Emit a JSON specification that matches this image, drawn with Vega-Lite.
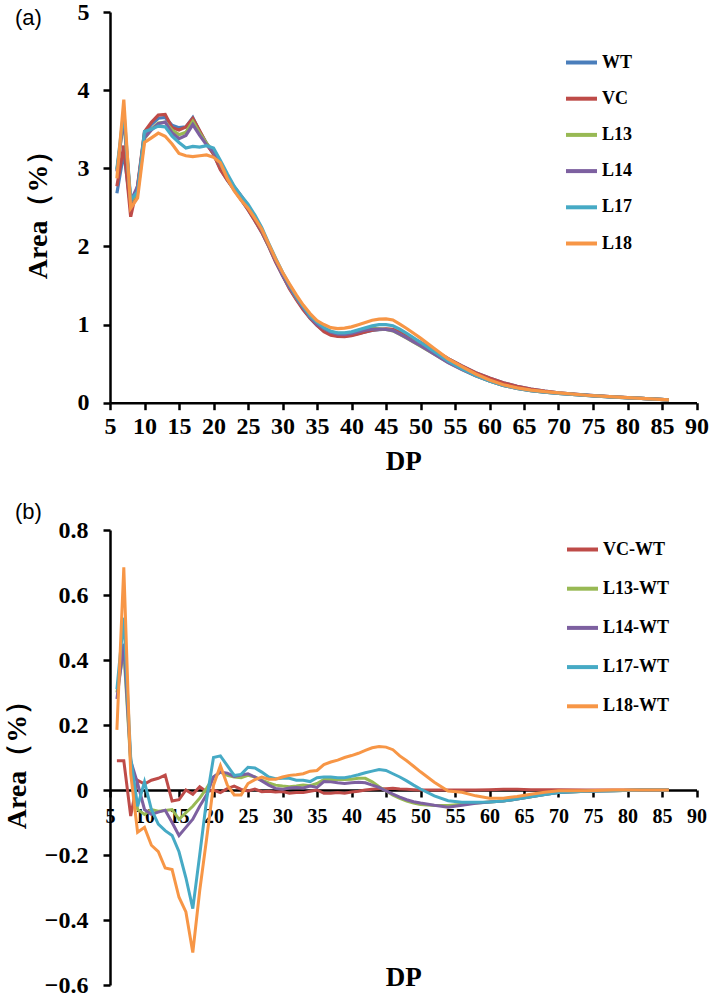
{
  "$schema": "https://vega.github.io/schema/vega-lite/v6.json",
  "padding": {"left": 3, "top": 0, "right": 0, "bottom": 0},
  "spacing": 26,
  "config": {
    "view": {"stroke": null},
    "font": "Liberation Serif",
    "axis": {"domainColor": "#000", "domainWidth": 2.5, "tickColor": "#000", "tickWidth": 2.5, "tickSize": 7, "labelColor": "#000", "labelFont": "Liberation Serif", "labelFontWeight": "bold", "grid": false, "titleFont": "Liberation Serif", "titleFontWeight": "bold", "titleColor": "#000", "labelOverlap": false, "labelFlush": false, "labelBound": false},
    "legend": {"symbolType": "stroke", "symbolSize": 961, "symbolStrokeWidth": 4, "labelFont": "Liberation Serif", "labelFontWeight": "bold", "labelFontSize": 18, "labelColor": "#000", "labelOffset": 3, "padding": 0, "title": null}
  },
  "datasets": {
    "top": [
      {"s":"WT","dp":6,"v":2.68},{"s":"WT","dp":7,"v":3.20},{"s":"WT","dp":8,"v":2.50},{"s":"WT","dp":9,"v":2.75},{"s":"WT","dp":10,"v":3.45},{"s":"WT","dp":11,"v":3.56},{"s":"WT","dp":12,"v":3.64},{"s":"WT","dp":13,"v":3.65},{"s":"WT","dp":14,"v":3.55},{"s":"WT","dp":15,"v":3.52},{"s":"WT","dp":16,"v":3.53},{"s":"WT","dp":17,"v":3.65},{"s":"WT","dp":18,"v":3.47},{"s":"WT","dp":19,"v":3.32},{"s":"WT","dp":20,"v":3.18},{"s":"WT","dp":21,"v":2.99},{"s":"WT","dp":22,"v":2.85},{"s":"WT","dp":23,"v":2.72},{"s":"WT","dp":24,"v":2.60},{"s":"WT","dp":25,"v":2.47},{"s":"WT","dp":26,"v":2.33},{"s":"WT","dp":27,"v":2.18},{"s":"WT","dp":28,"v":2.00},{"s":"WT","dp":29,"v":1.81},{"s":"WT","dp":30,"v":1.63},{"s":"WT","dp":31,"v":1.47},{"s":"WT","dp":32,"v":1.33},{"s":"WT","dp":33,"v":1.20},{"s":"WT","dp":34,"v":1.08},{"s":"WT","dp":35,"v":0.99},{"s":"WT","dp":36,"v":0.92},{"s":"WT","dp":37,"v":0.875},{"s":"WT","dp":38,"v":0.855},{"s":"WT","dp":39,"v":0.855},{"s":"WT","dp":40,"v":0.865},{"s":"WT","dp":41,"v":0.885},{"s":"WT","dp":42,"v":0.905},{"s":"WT","dp":43,"v":0.925},{"s":"WT","dp":44,"v":0.935},{"s":"WT","dp":45,"v":0.94},{"s":"WT","dp":46,"v":0.935},{"s":"WT","dp":47,"v":0.90},{"s":"WT","dp":48,"v":0.86},{"s":"WT","dp":49,"v":0.815},{"s":"WT","dp":50,"v":0.77},{"s":"WT","dp":52,"v":0.67},{"s":"WT","dp":54,"v":0.565},{"s":"WT","dp":56,"v":0.47},{"s":"WT","dp":58,"v":0.385},{"s":"WT","dp":60,"v":0.315},{"s":"WT","dp":62,"v":0.255},{"s":"WT","dp":64,"v":0.21},{"s":"WT","dp":66,"v":0.175},{"s":"WT","dp":68,"v":0.148},{"s":"WT","dp":70,"v":0.127},{"s":"WT","dp":74,"v":0.097},{"s":"WT","dp":78,"v":0.074},{"s":"WT","dp":82,"v":0.055},{"s":"WT","dp":86,"v":0.035},
      {"s":"VC","dp":6,"v":2.77},{"s":"VC","dp":7,"v":3.29},{"s":"VC","dp":8,"v":2.38},{"s":"VC","dp":9,"v":2.78},{"s":"VC","dp":10,"v":3.47},{"s":"VC","dp":11,"v":3.59},{"s":"VC","dp":12,"v":3.68},{"s":"VC","dp":13,"v":3.69},{"s":"VC","dp":14,"v":3.52},{"s":"VC","dp":15,"v":3.49},{"s":"VC","dp":16,"v":3.53},{"s":"VC","dp":17,"v":3.64},{"s":"VC","dp":18,"v":3.48},{"s":"VC","dp":19,"v":3.31},{"s":"VC","dp":20,"v":3.18},{"s":"VC","dp":21,"v":2.98},{"s":"VC","dp":22,"v":2.85},{"s":"VC","dp":23,"v":2.73},{"s":"VC","dp":24,"v":2.60},{"s":"VC","dp":25,"v":2.47},{"s":"VC","dp":26,"v":2.33},{"s":"VC","dp":27,"v":2.18},{"s":"VC","dp":28,"v":2.00},{"s":"VC","dp":29,"v":1.80},{"s":"VC","dp":30,"v":1.63},{"s":"VC","dp":31,"v":1.46},{"s":"VC","dp":32,"v":1.32},{"s":"VC","dp":33,"v":1.19},{"s":"VC","dp":34,"v":1.08},{"s":"VC","dp":35,"v":0.99},{"s":"VC","dp":36,"v":0.91},{"s":"VC","dp":37,"v":0.865},{"s":"VC","dp":38,"v":0.847},{"s":"VC","dp":39,"v":0.845},{"s":"VC","dp":40,"v":0.859},{"s":"VC","dp":41,"v":0.881},{"s":"VC","dp":42,"v":0.905},{"s":"VC","dp":43,"v":0.927},{"s":"VC","dp":44,"v":0.939},{"s":"VC","dp":45,"v":0.944},{"s":"VC","dp":46,"v":0.94},{"s":"VC","dp":47,"v":0.903},{"s":"VC","dp":48,"v":0.862},{"s":"VC","dp":49,"v":0.816},{"s":"VC","dp":50,"v":0.77},{"s":"VC","dp":52,"v":0.67},{"s":"VC","dp":54,"v":0.565},{"s":"VC","dp":56,"v":0.47},{"s":"VC","dp":58,"v":0.385},{"s":"VC","dp":60,"v":0.315},{"s":"VC","dp":62,"v":0.255},{"s":"VC","dp":64,"v":0.21},{"s":"VC","dp":66,"v":0.175},{"s":"VC","dp":68,"v":0.148},{"s":"VC","dp":70,"v":0.127},{"s":"VC","dp":74,"v":0.097},{"s":"VC","dp":78,"v":0.074},{"s":"VC","dp":82,"v":0.055},{"s":"VC","dp":86,"v":0.035},
      {"s":"L13","dp":6,"v":2.98},{"s":"L13","dp":7,"v":3.63},{"s":"L13","dp":8,"v":2.57},{"s":"L13","dp":9,"v":2.69},{"s":"L13","dp":10,"v":3.38},{"s":"L13","dp":11,"v":3.50},{"s":"L13","dp":12,"v":3.58},{"s":"L13","dp":13,"v":3.59},{"s":"L13","dp":14,"v":3.49},{"s":"L13","dp":15,"v":3.43},{"s":"L13","dp":16,"v":3.46},{"s":"L13","dp":17,"v":3.60},{"s":"L13","dp":18,"v":3.45},{"s":"L13","dp":19,"v":3.32},{"s":"L13","dp":20,"v":3.21},{"s":"L13","dp":21,"v":3.05},{"s":"L13","dp":22,"v":2.90},{"s":"L13","dp":23,"v":2.76},{"s":"L13","dp":24,"v":2.64},{"s":"L13","dp":25,"v":2.52},{"s":"L13","dp":26,"v":2.37},{"s":"L13","dp":27,"v":2.21},{"s":"L13","dp":28,"v":2.02},{"s":"L13","dp":29,"v":1.83},{"s":"L13","dp":30,"v":1.64},{"s":"L13","dp":31,"v":1.48},{"s":"L13","dp":32,"v":1.34},{"s":"L13","dp":33,"v":1.22},{"s":"L13","dp":34,"v":1.09},{"s":"L13","dp":35,"v":1.01},{"s":"L13","dp":36,"v":0.95},{"s":"L13","dp":37,"v":0.908},{"s":"L13","dp":38,"v":0.887},{"s":"L13","dp":39,"v":0.887},{"s":"L13","dp":40,"v":0.898},{"s":"L13","dp":41,"v":0.921},{"s":"L13","dp":42,"v":0.941},{"s":"L13","dp":43,"v":0.95},{"s":"L13","dp":44,"v":0.945},{"s":"L13","dp":45,"v":0.937},{"s":"L13","dp":46,"v":0.919},{"s":"L13","dp":47,"v":0.874},{"s":"L13","dp":48,"v":0.826},{"s":"L13","dp":49,"v":0.775},{"s":"L13","dp":50,"v":0.725},{"s":"L13","dp":52,"v":0.622},{"s":"L13","dp":54,"v":0.517},{"s":"L13","dp":56,"v":0.426},{"s":"L13","dp":58,"v":0.345},{"s":"L13","dp":60,"v":0.278},{"s":"L13","dp":62,"v":0.221},{"s":"L13","dp":64,"v":0.182},{"s":"L13","dp":66,"v":0.154},{"s":"L13","dp":68,"v":0.134},{"s":"L13","dp":70,"v":0.119},{"s":"L13","dp":74,"v":0.093},{"s":"L13","dp":78,"v":0.072},{"s":"L13","dp":82,"v":0.055},{"s":"L13","dp":86,"v":0.035},
      {"s":"L14","dp":6,"v":2.96},{"s":"L14","dp":7,"v":3.65},{"s":"L14","dp":8,"v":2.58},{"s":"L14","dp":9,"v":2.77},{"s":"L14","dp":10,"v":3.39},{"s":"L14","dp":11,"v":3.49},{"s":"L14","dp":12,"v":3.57},{"s":"L14","dp":13,"v":3.59},{"s":"L14","dp":14,"v":3.45},{"s":"L14","dp":15,"v":3.38},{"s":"L14","dp":16,"v":3.42},{"s":"L14","dp":17,"v":3.56},{"s":"L14","dp":18,"v":3.42},{"s":"L14","dp":19,"v":3.30},{"s":"L14","dp":20,"v":3.21},{"s":"L14","dp":21,"v":3.05},{"s":"L14","dp":22,"v":2.90},{"s":"L14","dp":23,"v":2.76},{"s":"L14","dp":24,"v":2.65},{"s":"L14","dp":25,"v":2.52},{"s":"L14","dp":26,"v":2.37},{"s":"L14","dp":27,"v":2.21},{"s":"L14","dp":28,"v":2.02},{"s":"L14","dp":29,"v":1.82},{"s":"L14","dp":30,"v":1.63},{"s":"L14","dp":31,"v":1.48},{"s":"L14","dp":32,"v":1.34},{"s":"L14","dp":33,"v":1.21},{"s":"L14","dp":34,"v":1.09},{"s":"L14","dp":35,"v":1.00},{"s":"L14","dp":36,"v":0.95},{"s":"L14","dp":37,"v":0.90},{"s":"L14","dp":38,"v":0.877},{"s":"L14","dp":39,"v":0.875},{"s":"L14","dp":40,"v":0.887},{"s":"L14","dp":41,"v":0.909},{"s":"L14","dp":42,"v":0.927},{"s":"L14","dp":43,"v":0.94},{"s":"L14","dp":44,"v":0.943},{"s":"L14","dp":45,"v":0.937},{"s":"L14","dp":46,"v":0.922},{"s":"L14","dp":47,"v":0.878},{"s":"L14","dp":48,"v":0.83},{"s":"L14","dp":49,"v":0.779},{"s":"L14","dp":50,"v":0.73},{"s":"L14","dp":52,"v":0.623},{"s":"L14","dp":54,"v":0.512},{"s":"L14","dp":56,"v":0.423},{"s":"L14","dp":58,"v":0.344},{"s":"L14","dp":60,"v":0.278},{"s":"L14","dp":62,"v":0.221},{"s":"L14","dp":64,"v":0.182},{"s":"L14","dp":66,"v":0.154},{"s":"L14","dp":68,"v":0.134},{"s":"L14","dp":70,"v":0.119},{"s":"L14","dp":74,"v":0.093},{"s":"L14","dp":78,"v":0.072},{"s":"L14","dp":82,"v":0.055},{"s":"L14","dp":86,"v":0.035},
      {"s":"L17","dp":6,"v":2.99},{"s":"L17","dp":7,"v":3.73},{"s":"L17","dp":8,"v":2.60},{"s":"L17","dp":9,"v":2.70},{"s":"L17","dp":10,"v":3.47},{"s":"L17","dp":11,"v":3.50},{"s":"L17","dp":12,"v":3.54},{"s":"L17","dp":13,"v":3.53},{"s":"L17","dp":14,"v":3.41},{"s":"L17","dp":15,"v":3.33},{"s":"L17","dp":16,"v":3.26},{"s":"L17","dp":17,"v":3.28},{"s":"L17","dp":18,"v":3.27},{"s":"L17","dp":19,"v":3.29},{"s":"L17","dp":20,"v":3.26},{"s":"L17","dp":21,"v":3.10},{"s":"L17","dp":22,"v":2.93},{"s":"L17","dp":23,"v":2.77},{"s":"L17","dp":24,"v":2.65},{"s":"L17","dp":25,"v":2.54},{"s":"L17","dp":26,"v":2.40},{"s":"L17","dp":27,"v":2.24},{"s":"L17","dp":28,"v":2.04},{"s":"L17","dp":29,"v":1.85},{"s":"L17","dp":30,"v":1.67},{"s":"L17","dp":31,"v":1.51},{"s":"L17","dp":32,"v":1.36},{"s":"L17","dp":33,"v":1.23},{"s":"L17","dp":34,"v":1.11},{"s":"L17","dp":35,"v":1.03},{"s":"L17","dp":36,"v":0.96},{"s":"L17","dp":37,"v":0.915},{"s":"L17","dp":38,"v":0.893},{"s":"L17","dp":39,"v":0.893},{"s":"L17","dp":40,"v":0.907},{"s":"L17","dp":41,"v":0.932},{"s":"L17","dp":42,"v":0.958},{"s":"L17","dp":43,"v":0.983},{"s":"L17","dp":44,"v":0.998},{"s":"L17","dp":45,"v":1.0},{"s":"L17","dp":46,"v":0.985},{"s":"L17","dp":47,"v":0.94},{"s":"L17","dp":48,"v":0.888},{"s":"L17","dp":49,"v":0.83},{"s":"L17","dp":50,"v":0.773},{"s":"L17","dp":52,"v":0.652},{"s":"L17","dp":54,"v":0.532},{"s":"L17","dp":56,"v":0.432},{"s":"L17","dp":58,"v":0.347},{"s":"L17","dp":60,"v":0.278},{"s":"L17","dp":62,"v":0.221},{"s":"L17","dp":64,"v":0.182},{"s":"L17","dp":66,"v":0.154},{"s":"L17","dp":68,"v":0.134},{"s":"L17","dp":70,"v":0.119},{"s":"L17","dp":74,"v":0.093},{"s":"L17","dp":78,"v":0.072},{"s":"L17","dp":82,"v":0.055},{"s":"L17","dp":86,"v":0.035},
      {"s":"L18","dp":6,"v":2.87},{"s":"L18","dp":7,"v":3.88},{"s":"L18","dp":8,"v":2.49},{"s":"L18","dp":9,"v":2.62},{"s":"L18","dp":10,"v":3.33},{"s":"L18","dp":11,"v":3.39},{"s":"L18","dp":12,"v":3.45},{"s":"L18","dp":13,"v":3.41},{"s":"L18","dp":14,"v":3.31},{"s":"L18","dp":15,"v":3.19},{"s":"L18","dp":16,"v":3.16},{"s":"L18","dp":17,"v":3.15},{"s":"L18","dp":18,"v":3.16},{"s":"L18","dp":19,"v":3.17},{"s":"L18","dp":20,"v":3.14},{"s":"L18","dp":21,"v":3.07},{"s":"L18","dp":22,"v":2.87},{"s":"L18","dp":23,"v":2.71},{"s":"L18","dp":24,"v":2.59},{"s":"L18","dp":25,"v":2.49},{"s":"L18","dp":26,"v":2.36},{"s":"L18","dp":27,"v":2.22},{"s":"L18","dp":28,"v":2.03},{"s":"L18","dp":29,"v":1.84},{"s":"L18","dp":30,"v":1.67},{"s":"L18","dp":31,"v":1.52},{"s":"L18","dp":32,"v":1.38},{"s":"L18","dp":33,"v":1.25},{"s":"L18","dp":34,"v":1.14},{"s":"L18","dp":35,"v":1.05},{"s":"L18","dp":36,"v":1.0},{"s":"L18","dp":37,"v":0.961},{"s":"L18","dp":38,"v":0.947},{"s":"L18","dp":39,"v":0.955},{"s":"L18","dp":40,"v":0.971},{"s":"L18","dp":41,"v":0.998},{"s":"L18","dp":42,"v":1.027},{"s":"L18","dp":43,"v":1.055},{"s":"L18","dp":44,"v":1.069},{"s":"L18","dp":45,"v":1.072},{"s":"L18","dp":46,"v":1.059},{"s":"L18","dp":47,"v":1.005},{"s":"L18","dp":48,"v":0.95},{"s":"L18","dp":49,"v":0.888},{"s":"L18","dp":50,"v":0.826},{"s":"L18","dp":52,"v":0.694},{"s":"L18","dp":54,"v":0.562},{"s":"L18","dp":56,"v":0.463},{"s":"L18","dp":58,"v":0.367},{"s":"L18","dp":60,"v":0.29},{"s":"L18","dp":62,"v":0.23},{"s":"L18","dp":64,"v":0.19},{"s":"L18","dp":66,"v":0.162},{"s":"L18","dp":68,"v":0.141},{"s":"L18","dp":70,"v":0.125},{"s":"L18","dp":74,"v":0.095},{"s":"L18","dp":78,"v":0.074},{"s":"L18","dp":82,"v":0.055},{"s":"L18","dp":86,"v":0.035}
    ],
    "bot": [
      {"s":"VC-WT","dp":6,"v":0.09},{"s":"VC-WT","dp":7,"v":0.09},{"s":"VC-WT","dp":8,"v":-0.08},{"s":"VC-WT","dp":9,"v":0.03},{"s":"VC-WT","dp":10,"v":0.018},{"s":"VC-WT","dp":11,"v":0.03},{"s":"VC-WT","dp":12,"v":0.036},{"s":"VC-WT","dp":13,"v":0.046},{"s":"VC-WT","dp":14,"v":-0.034},{"s":"VC-WT","dp":15,"v":-0.03},{"s":"VC-WT","dp":16,"v":0.0},{"s":"VC-WT","dp":17,"v":-0.013},{"s":"VC-WT","dp":18,"v":0.01},{"s":"VC-WT","dp":19,"v":-0.005},{"s":"VC-WT","dp":20,"v":0.0},{"s":"VC-WT","dp":21,"v":-0.008},{"s":"VC-WT","dp":22,"v":0.004},{"s":"VC-WT","dp":23,"v":0.012},{"s":"VC-WT","dp":24,"v":0.002},{"s":"VC-WT","dp":25,"v":-0.003},{"s":"VC-WT","dp":26,"v":0.003},{"s":"VC-WT","dp":27,"v":-0.005},{"s":"VC-WT","dp":28,"v":-0.004},{"s":"VC-WT","dp":29,"v":-0.006},{"s":"VC-WT","dp":30,"v":-0.005},{"s":"VC-WT","dp":31,"v":-0.01},{"s":"VC-WT","dp":32,"v":-0.008},{"s":"VC-WT","dp":33,"v":-0.008},{"s":"VC-WT","dp":34,"v":-0.004},{"s":"VC-WT","dp":35,"v":0.0},{"s":"VC-WT","dp":36,"v":-0.01},{"s":"VC-WT","dp":37,"v":-0.01},{"s":"VC-WT","dp":38,"v":-0.008},{"s":"VC-WT","dp":39,"v":-0.01},{"s":"VC-WT","dp":40,"v":-0.006},{"s":"VC-WT","dp":41,"v":-0.004},{"s":"VC-WT","dp":42,"v":0.0},{"s":"VC-WT","dp":43,"v":0.002},{"s":"VC-WT","dp":44,"v":0.004},{"s":"VC-WT","dp":45,"v":0.004},{"s":"VC-WT","dp":46,"v":0.005},{"s":"VC-WT","dp":47,"v":0.003},{"s":"VC-WT","dp":48,"v":0.002},{"s":"VC-WT","dp":49,"v":0.001},{"s":"VC-WT","dp":50,"v":0.0},{"s":"VC-WT","dp":52,"v":0.0},{"s":"VC-WT","dp":54,"v":0.0},{"s":"VC-WT","dp":56,"v":0.0},{"s":"VC-WT","dp":58,"v":0.0},{"s":"VC-WT","dp":60,"v":0.001},{"s":"VC-WT","dp":62,"v":0.002},{"s":"VC-WT","dp":64,"v":0.002},{"s":"VC-WT","dp":66,"v":0.001},{"s":"VC-WT","dp":68,"v":0.001},{"s":"VC-WT","dp":70,"v":0.001},{"s":"VC-WT","dp":74,"v":0.0},{"s":"VC-WT","dp":78,"v":0.0},{"s":"VC-WT","dp":82,"v":0.0},{"s":"VC-WT","dp":86,"v":0.0},
      {"s":"L13-WT","dp":6,"v":0.3},{"s":"L13-WT","dp":7,"v":0.43},{"s":"L13-WT","dp":8,"v":0.08},{"s":"L13-WT","dp":9,"v":-0.06},{"s":"L13-WT","dp":10,"v":-0.075},{"s":"L13-WT","dp":11,"v":-0.06},{"s":"L13-WT","dp":12,"v":-0.065},{"s":"L13-WT","dp":13,"v":-0.063},{"s":"L13-WT","dp":14,"v":-0.06},{"s":"L13-WT","dp":15,"v":-0.09},{"s":"L13-WT","dp":16,"v":-0.07},{"s":"L13-WT","dp":17,"v":-0.05},{"s":"L13-WT","dp":18,"v":-0.025},{"s":"L13-WT","dp":19,"v":0.005},{"s":"L13-WT","dp":20,"v":0.04},{"s":"L13-WT","dp":21,"v":0.055},{"s":"L13-WT","dp":22,"v":0.045},{"s":"L13-WT","dp":23,"v":0.04},{"s":"L13-WT","dp":24,"v":0.038},{"s":"L13-WT","dp":25,"v":0.045},{"s":"L13-WT","dp":26,"v":0.04},{"s":"L13-WT","dp":27,"v":0.03},{"s":"L13-WT","dp":28,"v":0.022},{"s":"L13-WT","dp":29,"v":0.015},{"s":"L13-WT","dp":30,"v":0.012},{"s":"L13-WT","dp":31,"v":0.01},{"s":"L13-WT","dp":32,"v":0.012},{"s":"L13-WT","dp":33,"v":0.015},{"s":"L13-WT","dp":34,"v":0.013},{"s":"L13-WT","dp":35,"v":0.02},{"s":"L13-WT","dp":36,"v":0.032},{"s":"L13-WT","dp":37,"v":0.033},{"s":"L13-WT","dp":38,"v":0.032},{"s":"L13-WT","dp":39,"v":0.032},{"s":"L13-WT","dp":40,"v":0.033},{"s":"L13-WT","dp":41,"v":0.036},{"s":"L13-WT","dp":42,"v":0.036},{"s":"L13-WT","dp":43,"v":0.025},{"s":"L13-WT","dp":44,"v":0.01},{"s":"L13-WT","dp":45,"v":-0.003},{"s":"L13-WT","dp":46,"v":-0.016},{"s":"L13-WT","dp":47,"v":-0.026},{"s":"L13-WT","dp":48,"v":-0.034},{"s":"L13-WT","dp":49,"v":-0.04},{"s":"L13-WT","dp":50,"v":-0.045},{"s":"L13-WT","dp":52,"v":-0.048},{"s":"L13-WT","dp":54,"v":-0.048},{"s":"L13-WT","dp":56,"v":-0.044},{"s":"L13-WT","dp":58,"v":-0.04},{"s":"L13-WT","dp":60,"v":-0.037},{"s":"L13-WT","dp":62,"v":-0.034},{"s":"L13-WT","dp":64,"v":-0.028},{"s":"L13-WT","dp":66,"v":-0.021},{"s":"L13-WT","dp":68,"v":-0.014},{"s":"L13-WT","dp":70,"v":-0.008},{"s":"L13-WT","dp":74,"v":-0.004},{"s":"L13-WT","dp":78,"v":-0.002},{"s":"L13-WT","dp":82,"v":0.0},{"s":"L13-WT","dp":86,"v":0.0},
      {"s":"L14-WT","dp":6,"v":0.28},{"s":"L14-WT","dp":7,"v":0.45},{"s":"L14-WT","dp":8,"v":0.09},{"s":"L14-WT","dp":9,"v":0.02},{"s":"L14-WT","dp":10,"v":-0.06},{"s":"L14-WT","dp":11,"v":-0.075},{"s":"L14-WT","dp":12,"v":-0.068},{"s":"L14-WT","dp":13,"v":-0.062},{"s":"L14-WT","dp":14,"v":-0.1},{"s":"L14-WT","dp":15,"v":-0.14},{"s":"L14-WT","dp":16,"v":-0.115},{"s":"L14-WT","dp":17,"v":-0.09},{"s":"L14-WT","dp":18,"v":-0.05},{"s":"L14-WT","dp":19,"v":-0.015},{"s":"L14-WT","dp":20,"v":0.04},{"s":"L14-WT","dp":21,"v":0.055},{"s":"L14-WT","dp":22,"v":0.052},{"s":"L14-WT","dp":23,"v":0.042},{"s":"L14-WT","dp":24,"v":0.046},{"s":"L14-WT","dp":25,"v":0.05},{"s":"L14-WT","dp":26,"v":0.04},{"s":"L14-WT","dp":27,"v":0.028},{"s":"L14-WT","dp":28,"v":0.015},{"s":"L14-WT","dp":29,"v":0.005},{"s":"L14-WT","dp":30,"v":0.002},{"s":"L14-WT","dp":31,"v":0.006},{"s":"L14-WT","dp":32,"v":0.008},{"s":"L14-WT","dp":33,"v":0.006},{"s":"L14-WT","dp":34,"v":0.012},{"s":"L14-WT","dp":35,"v":0.008},{"s":"L14-WT","dp":36,"v":0.026},{"s":"L14-WT","dp":37,"v":0.025},{"s":"L14-WT","dp":38,"v":0.022},{"s":"L14-WT","dp":39,"v":0.02},{"s":"L14-WT","dp":40,"v":0.022},{"s":"L14-WT","dp":41,"v":0.024},{"s":"L14-WT","dp":42,"v":0.022},{"s":"L14-WT","dp":43,"v":0.015},{"s":"L14-WT","dp":44,"v":0.008},{"s":"L14-WT","dp":45,"v":-0.003},{"s":"L14-WT","dp":46,"v":-0.013},{"s":"L14-WT","dp":47,"v":-0.022},{"s":"L14-WT","dp":48,"v":-0.03},{"s":"L14-WT","dp":49,"v":-0.036},{"s":"L14-WT","dp":50,"v":-0.04},{"s":"L14-WT","dp":52,"v":-0.047},{"s":"L14-WT","dp":54,"v":-0.053},{"s":"L14-WT","dp":56,"v":-0.047},{"s":"L14-WT","dp":58,"v":-0.041},{"s":"L14-WT","dp":60,"v":-0.037},{"s":"L14-WT","dp":62,"v":-0.034},{"s":"L14-WT","dp":64,"v":-0.028},{"s":"L14-WT","dp":66,"v":-0.021},{"s":"L14-WT","dp":68,"v":-0.014},{"s":"L14-WT","dp":70,"v":-0.008},{"s":"L14-WT","dp":74,"v":-0.004},{"s":"L14-WT","dp":78,"v":-0.002},{"s":"L14-WT","dp":82,"v":0.0},{"s":"L14-WT","dp":86,"v":0.0},
      {"s":"L17-WT","dp":6,"v":0.31},{"s":"L17-WT","dp":7,"v":0.53},{"s":"L17-WT","dp":8,"v":0.1},{"s":"L17-WT","dp":9,"v":-0.05},{"s":"L17-WT","dp":10,"v":0.025},{"s":"L17-WT","dp":11,"v":-0.06},{"s":"L17-WT","dp":12,"v":-0.105},{"s":"L17-WT","dp":13,"v":-0.125},{"s":"L17-WT","dp":14,"v":-0.14},{"s":"L17-WT","dp":15,"v":-0.19},{"s":"L17-WT","dp":16,"v":-0.27},{"s":"L17-WT","dp":17,"v":-0.365},{"s":"L17-WT","dp":18,"v":-0.2},{"s":"L17-WT","dp":19,"v":-0.03},{"s":"L17-WT","dp":20,"v":0.1},{"s":"L17-WT","dp":21,"v":0.105},{"s":"L17-WT","dp":22,"v":0.075},{"s":"L17-WT","dp":23,"v":0.045},{"s":"L17-WT","dp":24,"v":0.048},{"s":"L17-WT","dp":25,"v":0.07},{"s":"L17-WT","dp":26,"v":0.068},{"s":"L17-WT","dp":27,"v":0.055},{"s":"L17-WT","dp":28,"v":0.04},{"s":"L17-WT","dp":29,"v":0.035},{"s":"L17-WT","dp":30,"v":0.036},{"s":"L17-WT","dp":31,"v":0.036},{"s":"L17-WT","dp":32,"v":0.03},{"s":"L17-WT","dp":33,"v":0.03},{"s":"L17-WT","dp":34,"v":0.026},{"s":"L17-WT","dp":35,"v":0.038},{"s":"L17-WT","dp":36,"v":0.04},{"s":"L17-WT","dp":37,"v":0.04},{"s":"L17-WT","dp":38,"v":0.038},{"s":"L17-WT","dp":39,"v":0.038},{"s":"L17-WT","dp":40,"v":0.042},{"s":"L17-WT","dp":41,"v":0.047},{"s":"L17-WT","dp":42,"v":0.053},{"s":"L17-WT","dp":43,"v":0.058},{"s":"L17-WT","dp":44,"v":0.063},{"s":"L17-WT","dp":45,"v":0.06},{"s":"L17-WT","dp":46,"v":0.05},{"s":"L17-WT","dp":47,"v":0.04},{"s":"L17-WT","dp":48,"v":0.028},{"s":"L17-WT","dp":49,"v":0.015},{"s":"L17-WT","dp":50,"v":0.003},{"s":"L17-WT","dp":52,"v":-0.018},{"s":"L17-WT","dp":54,"v":-0.033},{"s":"L17-WT","dp":56,"v":-0.038},{"s":"L17-WT","dp":58,"v":-0.038},{"s":"L17-WT","dp":60,"v":-0.037},{"s":"L17-WT","dp":62,"v":-0.034},{"s":"L17-WT","dp":64,"v":-0.028},{"s":"L17-WT","dp":66,"v":-0.021},{"s":"L17-WT","dp":68,"v":-0.014},{"s":"L17-WT","dp":70,"v":-0.008},{"s":"L17-WT","dp":74,"v":-0.004},{"s":"L17-WT","dp":78,"v":-0.002},{"s":"L17-WT","dp":82,"v":0.0},{"s":"L17-WT","dp":86,"v":0.0},
      {"s":"L18-WT","dp":6,"v":0.185},{"s":"L18-WT","dp":7,"v":0.685},{"s":"L18-WT","dp":8,"v":0.05},{"s":"L18-WT","dp":9,"v":-0.13},{"s":"L18-WT","dp":10,"v":-0.115},{"s":"L18-WT","dp":11,"v":-0.17},{"s":"L18-WT","dp":12,"v":-0.19},{"s":"L18-WT","dp":13,"v":-0.24},{"s":"L18-WT","dp":14,"v":-0.245},{"s":"L18-WT","dp":15,"v":-0.33},{"s":"L18-WT","dp":16,"v":-0.375},{"s":"L18-WT","dp":17,"v":-0.5},{"s":"L18-WT","dp":18,"v":-0.31},{"s":"L18-WT","dp":19,"v":-0.15},{"s":"L18-WT","dp":20,"v":0.015},{"s":"L18-WT","dp":21,"v":0.075},{"s":"L18-WT","dp":22,"v":0.015},{"s":"L18-WT","dp":23,"v":-0.015},{"s":"L18-WT","dp":24,"v":-0.015},{"s":"L18-WT","dp":25,"v":0.02},{"s":"L18-WT","dp":26,"v":0.032},{"s":"L18-WT","dp":27,"v":0.04},{"s":"L18-WT","dp":28,"v":0.033},{"s":"L18-WT","dp":29,"v":0.033},{"s":"L18-WT","dp":30,"v":0.04},{"s":"L18-WT","dp":31,"v":0.045},{"s":"L18-WT","dp":32,"v":0.047},{"s":"L18-WT","dp":33,"v":0.05},{"s":"L18-WT","dp":34,"v":0.058},{"s":"L18-WT","dp":35,"v":0.06},{"s":"L18-WT","dp":36,"v":0.078},{"s":"L18-WT","dp":37,"v":0.086},{"s":"L18-WT","dp":38,"v":0.092},{"s":"L18-WT","dp":39,"v":0.1},{"s":"L18-WT","dp":40,"v":0.106},{"s":"L18-WT","dp":41,"v":0.113},{"s":"L18-WT","dp":42,"v":0.122},{"s":"L18-WT","dp":43,"v":0.13},{"s":"L18-WT","dp":44,"v":0.134},{"s":"L18-WT","dp":45,"v":0.132},{"s":"L18-WT","dp":46,"v":0.124},{"s":"L18-WT","dp":47,"v":0.105},{"s":"L18-WT","dp":48,"v":0.09},{"s":"L18-WT","dp":49,"v":0.073},{"s":"L18-WT","dp":50,"v":0.056},{"s":"L18-WT","dp":52,"v":0.024},{"s":"L18-WT","dp":54,"v":-0.003},{"s":"L18-WT","dp":56,"v":-0.007},{"s":"L18-WT","dp":58,"v":-0.018},{"s":"L18-WT","dp":60,"v":-0.025},{"s":"L18-WT","dp":62,"v":-0.025},{"s":"L18-WT","dp":64,"v":-0.02},{"s":"L18-WT","dp":66,"v":-0.013},{"s":"L18-WT","dp":68,"v":-0.007},{"s":"L18-WT","dp":70,"v":-0.002},{"s":"L18-WT","dp":74,"v":-0.002},{"s":"L18-WT","dp":78,"v":0.0},{"s":"L18-WT","dp":82,"v":0.0},{"s":"L18-WT","dp":86,"v":0.0}
    ]
  },
  "vconcat": [
    {
      "width": 586.5,
      "height": 390.7,
      "title": {"text": "(a)", "anchor": "start", "frame": "group", "font": "Liberation Sans", "fontWeight": "normal", "fontSize": 22, "color": "#000", "dx": -95, "dy": 30, "offset": 0},
      "data": {"name": "top"},
      "mark": {"type": "line", "strokeWidth": 3.2},
      "encoding": {
        "x": {"field": "dp", "type": "quantitative", "scale": {"domain": [5, 90], "nice": false, "zero": false},
              "axis": {"values": [5,10,15,20,25,30,35,40,45,50,55,60,65,70,75,80,85,90], "title": "DP", "labelFontSize": 24, "titleFontSize": 27, "labelPadding": 5, "titlePadding": 10}},
        "y": {"field": "v", "type": "quantitative", "scale": {"domain": [0, 5], "nice": false},
              "axis": {"values": [0,1,2,3,4,5], "title": "Area（%）", "labelFontSize": 24, "titleFontSize": 28, "labelPadding": 14, "titlePadding": 25}},
        "color": {"field": "s", "type": "nominal", "sort": null,
                  "scale": {"domain": ["WT","VC","L13","L14","L17","L18"], "range": ["#4A7EBB","#BE4B48","#98B954","#7D60A0","#46AAC5","#F79646"]},
                  "legend": {"orient": "none", "legendX": 454, "legendY": 33, "rowPadding": 9.2}}
      }
    },
    {
      "width": 586.5,
      "height": 455,
      "title": {"text": "(b)", "anchor": "start", "frame": "group", "font": "Liberation Sans", "fontWeight": "normal", "fontSize": 22, "color": "#000", "dx": -95, "dy": 6, "offset": 0},
      "data": {"name": "bot"},
      "mark": {"type": "line", "strokeWidth": 3},
      "encoding": {
        "x": {"field": "dp", "type": "quantitative", "scale": {"domain": [5, 90], "nice": false, "zero": false},
              "axis": {"values": [5,10,15,20,25,30,35,40,45,50,55,60,65,70,75,80,85,90], "title": "DP", "offset": -195, "labelFontSize": 20, "titleFontSize": 27, "labelPadding": 9, "titleY": 187, "titleBaseline": "middle"}},
        "y": {"field": "v", "type": "quantitative", "scale": {"domain": [-0.6, 0.8], "nice": false},
              "axis": {"values": [-0.6,-0.4,-0.2,0,0.2,0.4,0.6,0.8], "format": "~g", "title": "Area（%）", "labelFontSize": 24, "titleFontSize": 28, "labelPadding": 15, "titlePadding": 13}},
        "color": {"field": "s", "type": "nominal", "sort": null,
                  "scale": {"domain": ["VC-WT","L13-WT","L14-WT","L17-WT","L18-WT"], "range": ["#BE4B48","#98B954","#7D60A0","#46AAC5","#F79646"]},
                  "legend": {"orient": "none", "legendX": 455, "legendY": 2, "rowPadding": 12.2}}
      }
    }
  ],
  "resolve": {"scale": {"color": "independent"}, "legend": {"color": "independent"}}
}
